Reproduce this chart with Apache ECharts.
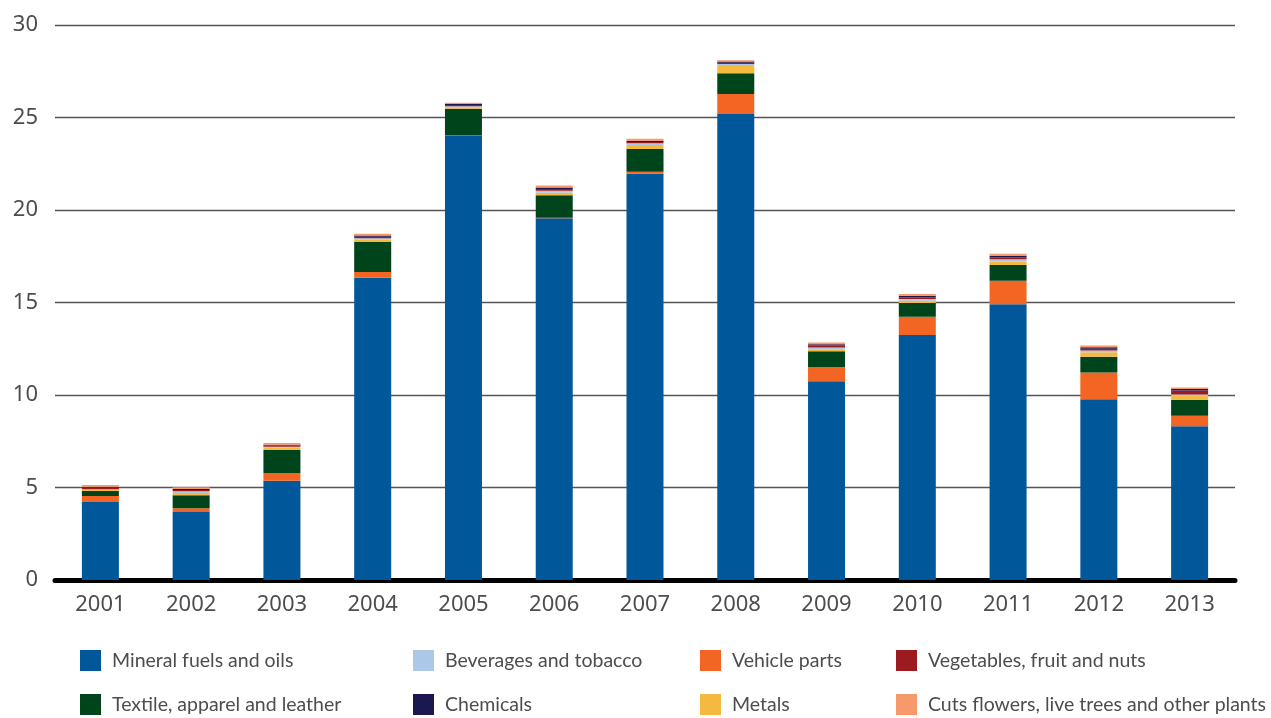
<!DOCTYPE html>
<html>
<head>
<meta charset="utf-8">
<script src="https://cdn.jsdelivr.net/npm/echarts@6/dist/echarts.min.js"></script>
<style>
  html, body { margin: 0; padding: 0; background: #fff; }
  #chart { width: 1271px; height: 718px; }
</style>
</head>
<body>
<div id="chart"></div>
<script>
// Years on the category axis
const years = ['2001','2002','2003','2004','2005','2006','2007','2008','2009','2010','2011','2012','2013'];

// Values per product group, stacked bottom to top
const mineralFuels = [4.22, 3.68, 5.37, 16.34, 24.00, 19.55, 21.96, 25.19, 10.74, 13.24, 14.90, 9.77, 8.31];
const vehicleParts = [0.32, 0.20, 0.42, 0.31, 0.03, 0.03, 0.11, 1.08, 0.77, 0.99, 1.28, 1.44, 0.57];
const textile      = [0.27, 0.70, 1.24, 1.62, 1.44, 1.22, 1.23, 1.12, 0.85, 0.74, 0.85, 0.86, 0.86];
const metals       = [0.05, 0.12, 0.12, 0.12, 0.08, 0.13, 0.22, 0.45, 0.11, 0.12, 0.18, 0.24, 0.20];
const beverages    = [0.05, 0.10, 0.05, 0.08, 0.06, 0.11, 0.09, 0.05, 0.10, 0.10, 0.13, 0.09, 0.09];
const vegetables   = [0.10, 0.07, 0.07, 0.08, 0.07, 0.09, 0.07, 0.07, 0.10, 0.10, 0.09, 0.10, 0.22];
const chemicals    = [0.03, 0.05, 0.04, 0.07, 0.05, 0.09, 0.06, 0.07, 0.08, 0.08, 0.09, 0.08, 0.07];
const cutFlowers   = [0.10, 0.09, 0.09, 0.09, 0.07, 0.11, 0.11, 0.07, 0.09, 0.09, 0.11, 0.09, 0.09];

// Y axis ticks
const yMin = 0, yMax = 30, yStep = 5;

const AXIS_FONT = '"Noto Sans", sans-serif';
const LEGEND_FONT = 'Lato, "Noto Sans", sans-serif';
const TEXT = '#4d4d4d';

const seriesDefs = [
  { name: 'Mineral fuels and oils', data: mineralFuels, color: '#00579a' },
  { name: 'Vehicle parts', data: vehicleParts, color: '#f26522' },
  { name: 'Textile, apparel and leather', data: textile, color: '#00441b' },
  { name: 'Metals', data: metals, color: '#f5b940' },
  { name: 'Beverages and tobacco', data: beverages, color: '#abc8e8' },
  { name: 'Vegetables, fruit and nuts', data: vegetables, color: '#9b1b20' },
  { name: 'Chemicals', data: chemicals, color: '#1c1651' },
  { name: 'Cuts flowers, live trees and other plants', data: cutFlowers, color: '#f6996b' }
];

// Legend laid out as four columns of two entries
const legendCols = [
  { left: 80,  names: ['Mineral fuels and oils', 'Textile, apparel and leather'] },
  { left: 413, names: ['Beverages and tobacco', 'Chemicals'] },
  { left: 700, names: ['Vehicle parts', 'Metals'] },
  { left: 896, names: ['Vegetables, fruit and nuts', 'Cuts flowers, live trees and other plants'] }
];

const chart = echarts.init(document.getElementById('chart'), null, { renderer: 'canvas' });

chart.setOption({
  animation: false,
  backgroundColor: '#fff',
  grid: { left: 55, right: 36, top: 25, bottom: 138 },
  xAxis: {
    type: 'category',
    data: years,
    axisLine: { show: true, lineStyle: { color: '#000', width: 5 } },
    axisTick: { show: false },
    axisLabel: { color: TEXT, fontFamily: AXIS_FONT, fontSize: 22, margin: 14 }
  },
  yAxis: {
    type: 'value',
    min: yMin, max: yMax, interval: yStep,
    axisLine: { show: false },
    axisTick: { show: false },
    axisLabel: { color: TEXT, fontFamily: AXIS_FONT, fontSize: 22, margin: 17 },
    splitLine: { lineStyle: { color: '#555', width: 1.3 } }
  },
  legend: legendCols.map(col => ({
    orient: 'vertical',
    left: col.left,
    top: 650,
    height: 140,
    padding: 0,
    itemWidth: 21,
    itemHeight: 21,
    itemGap: 23,
    icon: 'rect',
    data: col.names,
    textStyle: { color: TEXT, fontFamily: LEGEND_FONT, fontSize: 19.5, lineHeight: 21, padding: [0, 0, 0, 6] }
  })),
  series: seriesDefs.map(s => ({
    name: s.name,
    type: 'bar',
    stack: 'total',
    barWidth: 37,
    data: s.data,
    itemStyle: { color: s.color },
    emphasis: { disabled: true }
  }))
});
</script>
</body>
</html>
